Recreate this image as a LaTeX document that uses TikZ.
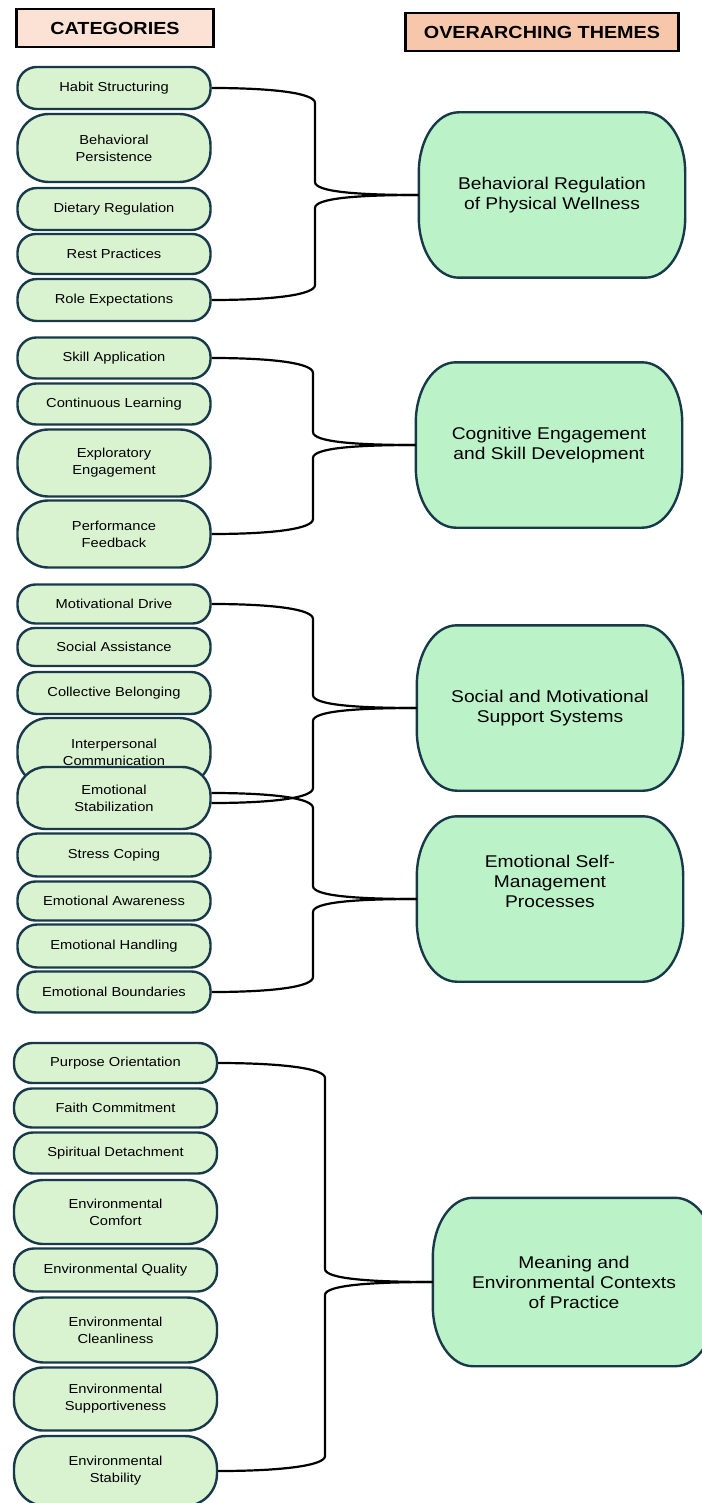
\documentclass[tikz,border=0pt]{standalone}
\usepackage{fontspec}
\setmainfont{Liberation Sans}[FakeStretch=1.13]
\usetikzlibrary{calc,backgrounds}
\definecolor{catgreen}{HTML}{D9F2D0}
\definecolor{themegreen}{HTML}{BBF2C8}
\definecolor{rim}{HTML}{17394A}
\definecolor{peachlight}{HTML}{FBE2D5}
\definecolor{peachdark}{HTML}{F7C7AC}
\tikzset{
	header/.style={draw=black, line width=2.4pt, minimum height=38pt,
			font=\fontsize{17.5}{20}\selectfont\bfseries},
	cat/.style={draw=rim, fill=catgreen, line width=2.4pt, minimum width=193pt,
			align=center, inner sep=0pt, font=\fontsize{13}{17}\selectfont},
	theme/.style={minimum width=266pt, minimum height=165pt, align=center,
			font=\fontsize{17}{20}\selectfont},
	themeline/.style={draw=rim, fill=themegreen, line width=2.4pt},
	link/.style={draw=black, line width=2.2pt}
}

\begin{document}
\begin{tikzpicture}[x=1pt, y=-1pt]
	\useasboundingbox (0,0) rectangle (701,1503);

	\node[header, fill=peachlight, minimum width=197pt] (cathead) at (115,28) {CATEGORIES};
	\node[header, fill=peachdark, minimum width=273pt] (themehead) at (542,32) {OVERARCHING THEMES};

	% categories
	\foreach \n/\y/\h/\lbl [evaluate=\h as \rc using 0.46*\h] in {
			hab/88/42/{Habit Structuring}, beh/148/68/{Behavioral\\Persistence},
			die/209/42/{Dietary Regulation}, rest/254/40/{Rest Practices},
			role/300/42/{Role Expectations},
			skill/358/41/{Skill Application}, cont/404/41/{Continuous Learning},
			expl/463/67/{Exploratory\\Engagement}, perf/534/67/{Performance\\Feedback},
			motiv/604/39/{Motivational Drive}, soc/647/38/{Social Assistance},
			coll/693/42/{Collective Belonging}, inter/752/68/{Interpersonal\\Communication},
			emst/798/62/{Emotional\\Stabilization},
			stress/855/43/{Stress Coping}, aware/901/39/{Emotional Awareness},
			handl/946/43/{Emotional Handling}, bound/992/41/{Emotional Boundaries}} {
		\node[cat, minimum height=\h pt, rounded corners=\rc pt] (\n) at (114,\y) {\lbl};
	}
	\foreach \n/\y/\h/\lbl [evaluate=\h as \rc using 0.46*\h] in {
			purp/1063/40/{Purpose Orientation}, faith/1108/39/{Faith Commitment},
			spir/1153/41/{Spiritual Detachment}, comf/1212/64/{Environmental\\Comfort},
			qual/1270/43/{Environmental Quality}, clean/1330/65/{Environmental\\Cleanliness},
			supp/1399/63/{Environmental\\Supportiveness}, stab/1471/70/{Environmental\\Stability}} {
		\node[cat, minimum width=203pt, minimum height=\h pt, rounded corners=\rc pt] (\n) at (115.5,\y) {\lbl};
	}

	% themes
	\node[theme] (t1) at (552,195) {Behavioral Regulation\\of Physical Wellness};
	\node[theme] (t2) at (549,445) {Cognitive Engagement\\and Skill Development};
	\node[theme] (t3) at (550,708) {Social and Motivational\\Support Systems};
	\node[theme] (t4) at (550,899) {Emotional Self-\\Management\\Processes\\[16pt]\mbox{}};
	\node[theme, minimum width=282pt, minimum height=168pt] (t5) at (574,1282)
		{Meaning and\\Environmental Contexts\\of Practice};

	\begin{scope}[on background layer]
		\foreach \tm in {t1,t2,t3,t4,t5} {
			\draw[themeline] ([xshift=40pt]\tm.north west) -- ([xshift=-40pt]\tm.north east)
				arc[start angle=90, end angle=0, x radius=40pt, y radius=60pt]
				-- ([yshift=60pt]\tm.south east)
				arc[start angle=0, end angle=-90, x radius=40pt, y radius=60pt]
				-- ([xshift=40pt]\tm.south west)
				arc[start angle=270, end angle=180, x radius=40pt, y radius=60pt]
				-- ([yshift=-60pt]\tm.north west)
				arc[start angle=180, end angle=90, x radius=40pt, y radius=60pt]
				-- cycle;
		}
	\end{scope}

	% braces
	\coordinate (s1) at (315,0);
	\coordinate (s2) at (313,0);
	\coordinate (s3) at (313,0);
	\coordinate (s4) at (313,0);
	\coordinate (s5) at (325,0);
	\foreach \a/\d/\tm/\s in {hab/0/t1/s1, skill/0/t2/s2, motiv/0/t3/s3, emst/5/t4/s4, purp/0/t5/s5} {
		\draw[link] ([yshift=\d pt]\a.east) coordinate (arm)
			to[out=0, in=90, out distance=60pt, in distance=10pt] ($(arm -| \s)+(0,15)$)
			-- ($(\tm.west -| \s)+(0,-13)$)
			to[out=-90, in=180, out distance=10pt, in distance=60pt] (\tm.west);
	}
	\foreach \b/\d/\tm/\s in {role/0/t1/s1, perf/0/t2/s2, emst/-5/t3/s3, bound/0/t4/s4, stab/0/t5/s5} {
		\draw[link] ([yshift=\d pt]\b.east) coordinate (arm)
			to[out=0, in=-90, out distance=60pt, in distance=10pt] ($(arm -| \s)+(0,-15)$)
			-- ($(\tm.west -| \s)+(0,13)$)
			to[out=90, in=180, out distance=10pt, in distance=60pt] (\tm.west);
	}
\end{tikzpicture}
\end{document}
